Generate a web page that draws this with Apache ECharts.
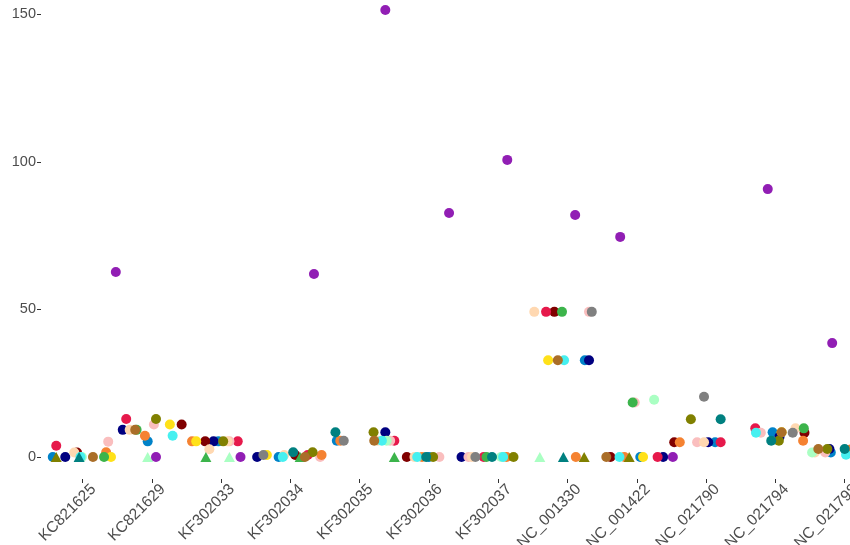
<!DOCTYPE html>
<html>
<head>
<meta charset="utf-8">
<script src="https://cdn.jsdelivr.net/npm/echarts@6/dist/echarts.min.js"></script>
<style>
html,body{margin:0;padding:0;background:#fff;}
#chart{width:850px;height:545px;}
</style>
</head>
<body>
<div id="chart"></div>
<script>
// Categories (x axis)
const categories = ['KC821625','KC821629','KF302033','KF302034','KF302035','KF302036','KF302037','NC_001330','NC_001422','NC_021790','NC_021794','NC_021798'];
const yTicks = [0, 50, 100, 150];

// Points: [jittered category position, value]
const blue    = [[-0.43,0],[0.94,5.3],[1.96,5.3],[2.83,0],[3.67,5.5],[5.0,0],[7.25,32.8],[8.05,0],[9.13,5.0],[9.96,8.4],[10.80,1.5]];
const navy    = [[-0.25,0],[0.58,9.2],[1.89,5.3],[2.52,0],[4.37,8.4],[5.47,0],[7.31,32.8],[8.38,0],[9.03,5.0],[10.06,6.9],[10.78,2.7]];
const maroon  = [[-0.08,1.5],[1.43,11],[1.77,5.3],[3.07,0.7],[4.68,0],[6.81,49.2],[7.62,0],[8.54,5.0],[10.42,8.2],[11.05,1.5]];
const crimson = [[-0.38,3.8],[0.63,12.9],[2.24,5.3],[3.25,0.7],[4.50,5.5],[5.79,0],[6.69,49.2],[8.30,0],[9.21,5.0],[9.71,9.7]];
const pink    = [[0.37,5.2],[1.03,11],[2.12,5.3],[3.43,0],[4.44,5.5],[5.15,0],[5.57,0],[7.31,49.2],[7.97,18.5],[8.87,5.0],[9.79,8.2],[10.72,1.5]];
const peach   = [[-0.12,1.5],[0.68,9.2],[1.83,2.6],[2.09,5.3],[2.91,0.7],[4.26,5.5],[4.79,0],[5.62,0],[6.52,49.2],[8.97,5.0],[10.29,9.7],[10.57,1.5]];
const orange  = [[0.34,1.6],[0.90,7.2],[1.58,5.3],[3.45,0.7],[3.72,5.5],[4.90,0],[6.12,0],[7.12,0],[7.82,0],[8.62,5.0],[10.40,5.5],[11.08,2.5]];
const yellow  = [[0.41,0],[1.26,11],[1.64,5.3],[2.66,0.7],[6.72,32.8],[8.09,0],[10.09,8.4]];
const olive   = [[1.06,12.9],[2.03,5.3],[3.32,1.6],[4.20,8.4],[5.06,0],[6.22,0],[8.78,12.8],[10.05,5.5],[10.75,2.7]];
const oliveTri = [[-0.38,0],[7.24,0],[7.89,0]];
const green   = [[0.31,0],[0.78,9.2],[5.83,0],[6.92,49.2],[7.94,18.5],[10.41,9.7]];
const greenTri = [[1.78,0],[3.14,0],[4.50,0]];
const mint    = [[-0.01,0],[4.39,5.5],[6.04,0],[8.25,19.4],[10.53,1.5]];
const mintTri = [[0.94,0],[2.12,0],[6.60,0]];
const cyan    = [[-0.03,0],[1.30,7.2],[2.89,0],[4.32,5.5],[4.83,0],[6.07,0],[6.95,32.8],[7.75,0],[9.72,8.2],[11.02,0.8]];
const teal    = [[3.04,1.6],[3.65,8.4],[4.96,0],[5.91,0],[9.21,12.8],[9.94,5.5],[11.0,2.7]];
const tealTri = [[-0.05,0],[6.94,0]];
const brown   = [[0.15,0],[0.76,9.2],[3.21,0],[4.21,5.5],[6.86,32.8],[7.56,0],[10.09,8.4],[10.62,2.7]];
const grey    = [[2.61,0.7],[3.77,5.5],[5.67,0],[7.35,49.2],[8.97,20.4],[10.25,8.2]];
const purple  = [[0.48,62.7],[1.06,0],[2.28,0],[3.34,62],[4.37,151.5],[5.29,82.7],[6.13,100.7],[7.11,82],[7.76,74.6],[8.52,0],[9.89,90.8],[10.82,38.6]];

const groups = [
  {name:'blue', data: blue, color:'#0082c8', shape:'circle'},
  {name:'navy', data: navy, color:'#000080', shape:'circle'},
  {name:'maroon', data: maroon, color:'#800000', shape:'circle'},
  {name:'crimson', data: crimson, color:'#e6194b', shape:'circle'},
  {name:'pink', data: pink, color:'#fabebe', shape:'circle'},
  {name:'peach', data: peach, color:'#ffd8b1', shape:'circle'},
  {name:'orange', data: orange, color:'#f58231', shape:'circle'},
  {name:'yellow', data: yellow, color:'#ffe119', shape:'circle'},
  {name:'olive', data: olive, color:'#808000', shape:'circle'},
  {name:'oliveTri', data: oliveTri, color:'#808000', shape:'triangle'},
  {name:'green', data: green, color:'#3cb44b', shape:'circle'},
  {name:'greenTri', data: greenTri, color:'#3cb44b', shape:'triangle'},
  {name:'mint', data: mint, color:'#aaffc3', shape:'circle'},
  {name:'mintTri', data: mintTri, color:'#aaffc3', shape:'triangle'},
  {name:'cyan', data: cyan, color:'#46f0f0', shape:'circle'},
  {name:'teal', data: teal, color:'#008080', shape:'circle'},
  {name:'tealTri', data: tealTri, color:'#008080', shape:'triangle'},
  {name:'brown', data: brown, color:'#aa6e28', shape:'circle'},
  {name:'grey', data: grey, color:'#808080', shape:'circle'},
  {name:'purple', data: purple, color:'#911eb4', shape:'circle'}
];

const chart = echarts.init(document.getElementById('chart'), null, {renderer:'canvas'});
const font = 'Liberation Sans, Arial, sans-serif';
chart.setOption({
  animation: false,
  backgroundColor: '#ffffff',
  grid: {left: 41, right: 0, top: 0, bottom: 66, containLabel: false, outerBoundsMode: 'none'},
  xAxis: {
    type: 'value',
    min: -0.6, max: 11.077,
    axisLine: {show: false, onZero: false},
    splitLine: {show: false},
    axisTick: {show: true, length: 4, lineStyle: {color: '#333333'}, customValues: categories.map((c, i) => i)},
    axisLabel: {
      show: true, rotate: 45, margin: -3,
      verticalAlign: 'top', lineHeight: 31,
      color: '#4d4d4d', fontSize: 15.5, fontFamily: font,
      customValues: categories.map((c, i) => i),
      formatter: v => categories[Math.round(v)]
    }
  },
  yAxis: {
    type: 'value',
    min: -7.46, max: 154.9,
    axisLine: {show: false, onZero: false},
    splitLine: {show: false},
    axisTick: {show: true, length: 4, lineStyle: {color: '#333333'}, customValues: yTicks},
    axisLabel: {show: true, margin: 5, color: '#4d4d4d', fontSize: 14.5, fontFamily: font, customValues: yTicks}
  },
  series: groups.map(g => ({
    type: 'scatter',
    name: g.name,
    data: g.data,
    symbol: g.shape,
    symbolSize: g.shape === 'triangle' ? [11, 10] : 10,
    itemStyle: {color: g.color, opacity: 1},
    emphasis: {disabled: true},
    clip: false
  }))
});
</script>
</body>
</html>
